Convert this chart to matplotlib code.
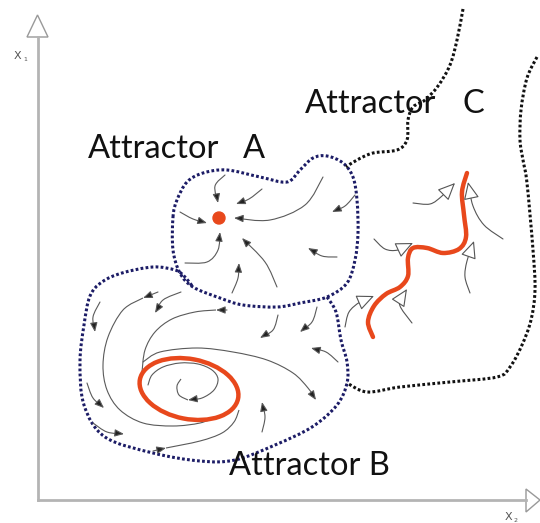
import numpy as np
import matplotlib.pyplot as plt
from matplotlib.path import Path
from matplotlib.patches import PathPatch, FancyArrowPatch, Ellipse, Polygon, Circle

# --- shapes of the sketch, in pixel coords (x right, y down) ---

# basin boundaries
bound_a = [(173, 217), (177, 200), (187, 182), (203, 173), (227, 170), (260, 177),
           (287, 182), (300, 170), (313, 158), (327, 156), (343, 163), (353, 177),
           (357, 200), (358, 233), (355, 260), (347, 283), (327, 297), (300, 303),
           (277, 307), (243, 305), (220, 298), (193, 287), (180, 273), (173, 250)]
# B shares its top edge with A, so it is drawn open
bound_b = [(327, 297), (336, 312), (341, 340), (347, 362), (347, 383), (337, 405),
           (312, 427), (275, 445), (235, 460), (200, 461), (153, 453), (105, 437),
           (84, 405), (80, 362), (84, 325), (90, 296), (102, 282), (122, 273), (153, 267),
           (175, 270), (184, 276), (193, 287)]
bound_c_left = [(463, 9), (457, 40), (450, 65), (438, 86), (425, 100), (413, 107),
                (408, 120), (407, 140), (397, 150), (373, 153), (357, 160), (346, 167)]
bound_c_right = [(537, 57), (527, 78), (521, 110), (520, 140), (523, 160), (527, 183),
                 (533, 250), (535, 290), (531, 320), (522, 345), (510, 367), (497, 377),
                 (450, 382), (400, 387), (367, 392), (347, 383)]

# attractors
fixed_point = (219, 218)
cycle_center = (189, 389)
cycle_axes = (100, 60)
cycle_tilt = 11
chaotic_curve = [(467, 173), (462, 192), (464, 215), (466, 237), (459, 249), (443, 253),
                 (427, 248), (413, 248), (408, 258), (408, 276), (400, 287), (386, 294),
                 (374, 306), (368, 322), (373, 337)]

# flow lines, arrow head at the last point
flows_a = [
    [(225, 175), (215, 186), (218, 203)],
    [(262, 189), (249, 199), (236, 204)],
    [(180, 212), (193, 219), (207, 223)],
    [(323, 177), (305, 205), (270, 220), (234, 218)],
    [(355, 195), (345, 206), (332, 212)],
    [(185, 263), (207, 262), (218, 250), (220, 232)],
    [(277, 287), (265, 262), (242, 238)],
    [(337, 257), (322, 256), (308, 248)],
    [(232, 293), (238, 278), (239, 263)],
]
flows_b = [
    [(227, 310), (216, 310)],
    [(158, 292), (143, 298)],
    [(153, 451), (166, 448)],
    [(181, 292), (163, 300), (155, 313)],
    [(100, 302), (93, 317), (95, 332)],
    [(87, 383), (93, 398), (104, 408)],
    [(93, 423), (107, 432), (124, 434)],
    [(262, 432), (265, 417), (262, 402)],
    [(278, 315), (273, 330), (260, 338)],
    [(317, 307), (312, 322), (300, 332)],
    [(338, 362), (326, 352), (311, 348)],
    [(143, 362), (160, 352), (197, 348), (233, 352), (267, 360), (293, 373), (308, 388), (316, 400)],
    [(148, 385), (152, 375), (163, 367), (180, 363), (198, 364), (212, 370), (218, 379),
     (214, 390), (202, 398), (188, 400)],
]
# plain lines (no head)
lines_b = [
    [(216, 310), (195, 312), (172, 319), (155, 332), (145, 350), (142, 372)],
    [(143, 298), (123, 310), (108, 337), (103, 365), (107, 390), (120, 410), (143, 423),
     (173, 426), (200, 423), (215, 417)],
    [(166, 448), (200, 441), (222, 433), (234, 422), (239, 410)],
    [(188, 400), (179, 395), (177, 386), (181, 379)],
]
# hollow arrows around attractor C
flows_c = [
    [(413, 203), (430, 204), (442, 196), (455, 183)],
    [(503, 239), (484, 225), (473, 206), (468, 182)],
    [(374, 239), (385, 249), (398, 250), (413, 243)],
    [(470, 293), (465, 277), (467, 261), (474, 241)],
    [(345, 327), (349, 312), (360, 302), (374, 296)],
    [(412, 323), (401, 308), (400, 300), (407, 289)],
]


def smooth(pts, closed=False):
    # Catmull-Rom through the points, as cubic bezier
    p = np.asarray(pts, float)
    if closed:
        p = np.vstack([p, p[:1]])
        ext = np.vstack([p[-2], p, p[1]])
    else:
        ext = np.vstack([p[0], p, p[-1]])
    verts = [p[0]]
    codes = [Path.MOVETO]
    for i in range(len(p) - 1):
        p0, p1, p2, p3 = ext[i], ext[i + 1], ext[i + 2], ext[i + 3]
        verts += [p1 + (p2 - p0) / 6, p2 - (p3 - p1) / 6, p2]
        codes += [Path.CURVE4] * 3
    return Path(verts, codes)


fig = plt.figure(figsize=(5.4, 5.23), dpi=100)
ax = fig.add_axes([0, 0, 1, 1])
ax.set_xlim(0, 540)
ax.set_ylim(523, 0)
ax.axis("off")

# axes of the state space
grey_axis = "#b4b4b4"
ax.plot([38, 38], [500, 37], color=grey_axis, lw=2)
ax.plot([38, 526], [500, 500], color=grey_axis, lw=2)
ax.add_patch(Polygon([(27, 37), (48, 37), (37.5, 15)], closed=True, fc="white", ec="#999999", lw=1))
ax.add_patch(Polygon([(526, 489), (526, 512), (540, 500)], closed=True, fc="white", ec="#999999", lw=1))
ax.text(14, 59, "X", fontsize=8, color="#555555")
ax.text(23, 61, "1", fontsize=4.5, color="#555555")
ax.text(505, 520, "X", fontsize=8, color="#555555")
ax.text(514, 522, "2", fontsize=4.5, color="#555555")

# basins
navy = "#1c1c66"
for pts, col, closed in [(bound_a, navy, True), (bound_b, navy, False),
                         (bound_c_left, "#111111", False), (bound_c_right, "#111111", False)]:
    patch = PathPatch(smooth(pts, closed), fill=False, ec=col, lw=2.2,
                      linestyle=(0, (0.9, 0.75)))
    patch.set_capstyle("butt")
    ax.add_patch(patch)

# flow lines
flow_col = "#5a5a5a"
for pts in flows_a + flows_b:
    ax.add_patch(FancyArrowPatch(path=smooth(pts), arrowstyle="-|>,head_length=0.55,head_width=0.22",
                                 mutation_scale=10, color=flow_col, fc="#222222", lw=0.8))
for pts in lines_b:
    ax.add_patch(PathPatch(smooth(pts), fill=False, ec=flow_col, lw=0.8))
for pts in flows_c:
    ax.add_patch(FancyArrowPatch(path=smooth(pts), arrowstyle="-|>,head_length=0.6,head_width=0.27",
                                 mutation_scale=18, ec="#555555", fc="white", lw=0.8, zorder=4))

# attractors
red = "#e8481c"
ax.add_patch(Circle(fixed_point, 6, color=red, zorder=5))
ax.add_patch(Ellipse(cycle_center, cycle_axes[0], cycle_axes[1], angle=cycle_tilt,
                     fill=False, ec=red, lw=3.2, zorder=5))
ax.add_patch(PathPatch(smooth(chaotic_curve), fill=False, ec=red, lw=3.2, capstyle="round", zorder=3))

# labels
font = dict(fontsize=23.5, color="#111111", family="Lato", zorder=6)
ax.text(88, 158, "Attractor", **font)
ax.text(243, 158, "A", **font)
ax.text(305, 113, "Attractor", **font)
ax.text(463, 113, "C", **font)
ax.text(229, 475, "Attractor B", **font)

plt.savefig("out.png", dpi=100)
